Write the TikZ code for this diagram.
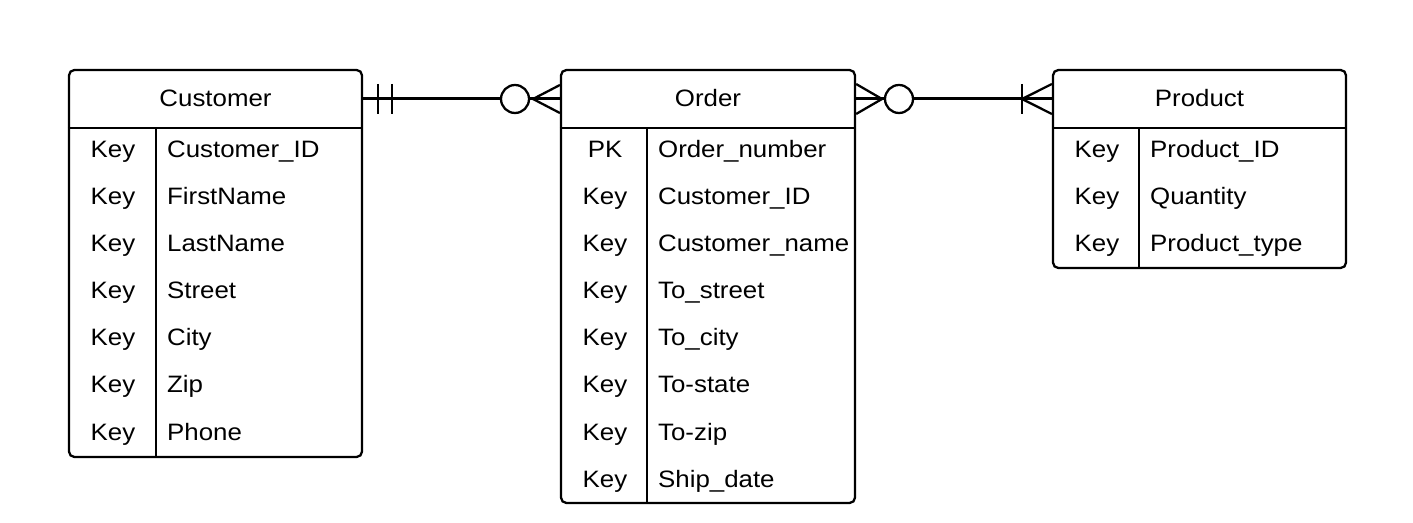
\documentclass[tikz,border=0pt]{standalone}
\usepackage{fontspec}
\setmainfont[FakeStretch=1.09]{Liberation Sans}
\usetikzlibrary{positioning}

\tikzset{
  tbl/.style={draw, line width=1.3pt, rounded corners=3pt, inner sep=0pt},
  head/.style={inner sep=0pt, minimum height=1.14cm},
  keycell/.style={anchor=base, inner sep=0pt},
  fieldcell/.style={anchor=base west, inner sep=0pt},
}

\begin{document}
\begin{tikzpicture}[x=0.02cm, y=-0.02cm, line width=1.3pt, font=\fontsize{13.5}{15}\selectfont]
      \useasboundingbox (0,0) rectangle (1413,523);

      % tables
      \node[tbl, minimum width=5.86cm, minimum height=7.74cm] (cust) at (215.5,263.5) {};
      \node[tbl, minimum width=5.88cm, minimum height=8.66cm] (ord) at (708,286.5) {};
      \node[tbl, minimum width=5.86cm, minimum height=3.96cm] (prod) at (1199.5,169) {};

      \node[head, minimum width=5.86cm] (custh) at (215.5,98.5) {Customer};
      \node[head, minimum width=5.88cm] (ordh) at (708,98.5) {Order};
      \node[head, minimum width=5.86cm] (prodh) at (1199.5,98.5) {Product};

      \draw (custh.south west) -- (custh.south east);
      \draw (ordh.south west) -- (ordh.south east);
      \draw (prodh.south west) -- (prodh.south east);

      \draw ([xshift=1.76cm]custh.south west) -- ([xshift=1.76cm]custh.south west |- cust.south);
      \draw ([xshift=1.74cm]ordh.south west) -- ([xshift=1.74cm]ordh.south west |- ord.south);
      \draw ([xshift=1.74cm]prodh.south west) -- ([xshift=1.74cm]prodh.south west |- prod.south);

      % Customer rows
      \node[keycell] (ck1) at (113,158) {Key};
      \node[keycell] (ck2) at (113,205) {Key};
      \node[keycell] (ck3) at (113,252) {Key};
      \node[keycell] (ck4) at (113,299) {Key};
      \node[keycell] (ck5) at (113,346) {Key};
      \node[keycell] (ck6) at (113,393) {Key};
      \node[keycell] (ck7) at (113,440) {Key};
      \node[fieldcell] (cf1) at (166,158) {Customer\_ID};
      \node[fieldcell] (cf2) at (166,205) {FirstName};
      \node[fieldcell] (cf3) at (166,252) {LastName};
      \node[fieldcell] (cf4) at (166,299) {Street};
      \node[fieldcell] (cf5) at (166,346) {City};
      \node[fieldcell] (cf6) at (166,393) {Zip};
      \node[fieldcell] (cf7) at (166,440) {Phone};

      % Order rows
      \node[keycell] (ok1) at (605,158) {PK};
      \node[keycell] (ok2) at (605,205) {Key};
      \node[keycell] (ok3) at (605,252) {Key};
      \node[keycell] (ok4) at (605,299) {Key};
      \node[keycell] (ok5) at (605,346) {Key};
      \node[keycell] (ok6) at (605,393) {Key};
      \node[keycell] (ok7) at (605,440) {Key};
      \node[keycell] (ok8) at (605,487) {Key};
      \node[fieldcell] (of1) at (657,158) {Order\_number};
      \node[fieldcell] (of2) at (657,205) {Customer\_ID};
      \node[fieldcell] (of3) at (657,252) {Customer\_name};
      \node[fieldcell] (of4) at (657,299) {To\_street};
      \node[fieldcell] (of5) at (657,346) {To\_city};
      \node[fieldcell] (of6) at (657,393) {To-state};
      \node[fieldcell] (of7) at (657,440) {To-zip};
      \node[fieldcell] (of8) at (657,487) {Ship\_date};

      % Product rows
      \node[keycell] (pk1) at (1097,158) {Key};
      \node[keycell] (pk2) at (1097,205) {Key};
      \node[keycell] (pk3) at (1097,252) {Key};
      \node[fieldcell] (pf1) at (1149,158) {Product\_ID};
      \node[fieldcell] (pf2) at (1149,205) {Quantity};
      \node[fieldcell] (pf3) at (1149,252) {Product\_type};

      % Customer -- Order: one and only one to zero or many
      \draw (custh.east) -- (ordh.west);
      \draw (378,84) -- (378,114);
      \draw (392,84) -- (392,114);
      \draw (ordh.west |- 0,85) -- (533,99) -- (ordh.west |- 0,113);
      \draw[fill=white] (515,99) circle[radius=0.28cm];

      % Order -- Product: zero or many to one or many
      \draw (ordh.east) -- (prodh.west);
      \draw (ordh.east |- 0,84) -- (882,99) -- (ordh.east |- 0,114);
      \draw[fill=white] (899,99) circle[radius=0.28cm];
      \draw (1022,84) -- (1022,114);
      \draw (prodh.west |- 0,84) -- (1022,99) -- (prodh.west |- 0,114);
    \end{tikzpicture}
\end{document}
